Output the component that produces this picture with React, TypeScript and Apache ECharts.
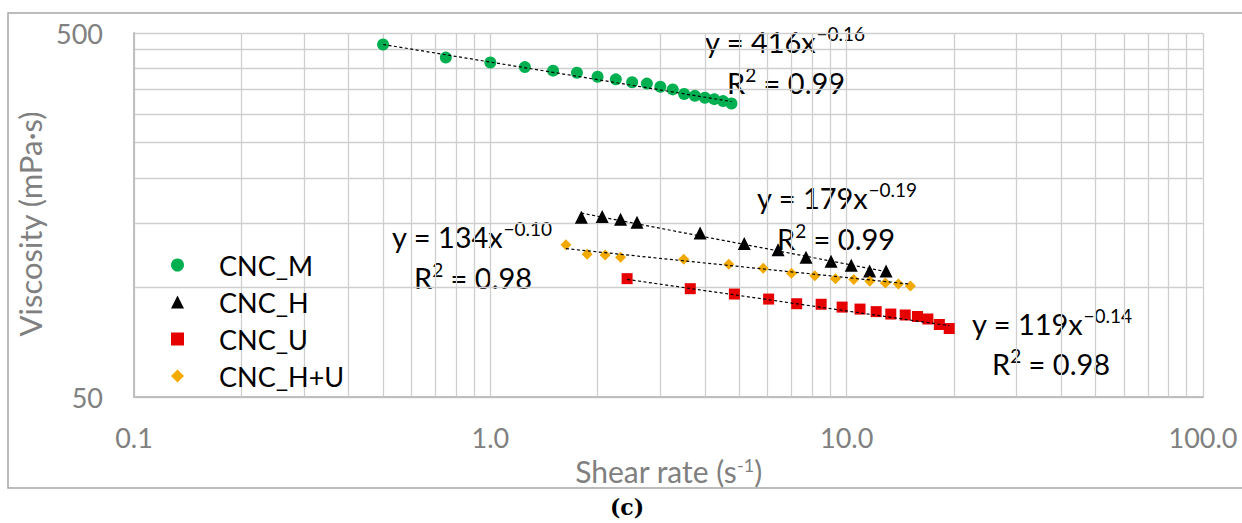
import React, { useEffect, useRef } from "react";
import * as echarts from "echarts";

// ---------- data ----------
const shearM = [0.5, 0.75, 1.0, 1.25, 1.5, 1.75, 2.0, 2.25, 2.5, 2.75, 3.0, 3.25, 3.5, 3.75, 4.0, 4.25, 4.5, 4.75];
const viscM = [465, 428, 415, 403, 394, 389, 379, 373, 366, 363, 356, 350, 340, 336, 332, 329, 325, 320];

const shearH = [1.8, 2.06, 2.32, 2.58, 3.88, 5.16, 6.42, 7.69, 9.04, 10.3, 11.6, 12.9];
const viscH = [156, 156.5, 154, 151, 141, 132, 127, 121, 118, 115, 111, 111];

const shearU = [2.42, 3.64, 4.84, 6.04, 7.24, 8.48, 9.71, 10.9, 12.1, 13.3, 14.6, 15.8, 16.9, 18.2, 19.4];
const viscU = [105.7, 99.2, 95.9, 92.9, 90.2, 89.9, 88.3, 87.2, 85.8, 84.5, 84.0, 83.2, 81.9, 79.1, 77.1];

const shearHU = [1.63, 1.87, 2.1, 2.32, 3.49, 4.67, 5.83, 7.0, 8.14, 9.3, 10.47, 11.61, 12.84, 13.97, 15.1];
const viscHU = [131, 123.3, 122.7, 121, 119.5, 115.8, 112.9, 109.4, 107.7, 105.7, 105.1, 104, 102.8, 102.2, 100.9];

// trend-line end points (power fits are straight on log-log axes)
const trendMX = [0.5, 4.75];
const trendMY = [465, 324];
const trendHX = [1.8, 12.9];
const trendHY = [160, 110.5];
const trendUX = [2.42, 19.4];
const trendUY = [105.2, 78.5];
const trendHUX = [1.63, 15.1];
const trendHUY = [127.8, 102.1];

const seriesNames = ["CNC_M", "CNC_H", "CNC_U", "CNC_H+U"];

// axis ticks / grid values
const xGridValues = [0.1, 0.2, 0.3, 0.4, 0.5, 0.6, 0.7, 0.8, 0.9, 1, 2, 3, 4, 5, 6, 7, 8, 9, 10, 20, 30, 40, 50, 60, 70, 80, 90, 100];
const xTickLabels = [0.1, 1, 10, 100];
const yGridValues = [50, 100, 150, 200, 250, 300, 350, 400, 450, 500];
const yTickLabels = [50, 500];

const FONT = "Lato";
const GRAY = "#808080";

const pairs = (xs: number[], ys: number[]) => xs.map((x, i) => [x, ys[i]]);

const richStyles = {
  m: { fontSize: 29, fontFamily: FONT, fill: "#000", lineHeight: 34 },
  s: { fontSize: 19, fontFamily: FONT, fill: "#000", lineHeight: 19, verticalAlign: "top" },
};

function eqText(x: number, y: number, main: string, sup: string) {
  return {
    type: "text",
    x,
    y,
    style: {
      text: `{m|${main}}{s|${sup}}`,
      align: "left",
      verticalAlign: "middle",
      rich: richStyles,
    },
  };
}

function r2Text(x: number, y: number, value: string) {
  return {
    type: "text",
    x,
    y,
    style: {
      text: `{m|R}{s|2}{m| = ${value}}`,
      align: "left",
      verticalAlign: "middle",
      rich: richStyles,
    },
  };
}

export default function App() {
  const ref = useRef<HTMLDivElement>(null);

  useEffect(() => {
    if (!ref.current) return;
    const chart = echarts.init(ref.current, null, { renderer: "svg" });

    const scatter = (name: string, xs: number[], ys: number[], symbol: string, size: number, color: string) => ({
      name,
      type: "scatter",
      data: pairs(xs, ys),
      symbol,
      symbolSize: size,
      itemStyle: { color, opacity: 1 },
      z: 2,
    });
    const trend = (xs: number[], ys: number[]) => ({
      type: "line",
      data: pairs(xs, ys),
      symbol: "none",
      silent: true,
      lineStyle: { color: "#000", width: 1.2, type: [3, 2.5] },
      z: 3,
    });

    chart.setOption({
      animation: false,
      backgroundColor: "#fff",
      grid: { left: 134, right: 39, top: 33, bottom: 126, containLabel: false },
      xAxis: {
        type: "log",
        logBase: 10,
        min: 0.1,
        max: 100,
        name: "Shear rate (s{sup|-1})",
        nameLocation: "middle",
        nameGap: 47,
        nameTextStyle: {
          color: GRAY,
          fontSize: 30,
          fontFamily: FONT,
          rich: { sup: { fontSize: 18, color: GRAY, fontFamily: FONT, verticalAlign: "top", lineHeight: 18 } },
        },
        axisLine: { show: true, lineStyle: { color: "#bfbfbf", width: 2 } },
        axisTick: { show: false, customValues: xGridValues },
        axisLabel: {
          customValues: xTickLabels,
          formatter: (v: number) => v.toFixed(1),
          color: GRAY,
          fontSize: 27,
          fontFamily: FONT,
          margin: 27,
        },
        splitLine: { show: true, lineStyle: { color: "#cfcfcf", width: 1.3 } },
        minorSplitLine: { show: false },
      },
      yAxis: {
        type: "log",
        logBase: 10,
        min: 50,
        max: 500,
        name: "Viscosity (mPa·s)",
        nameLocation: "middle",
        nameGap: 84,
        nameRotate: 90,
        nameTextStyle: { color: GRAY, fontSize: 31, fontFamily: FONT, padding: [0, 18, 0, 0] },
        axisLine: { show: true, lineStyle: { color: "#bfbfbf", width: 2 } },
        axisTick: { show: false, customValues: yGridValues },
        axisLabel: {
          customValues: yTickLabels,
          formatter: (v: number) => String(Math.round(v)),
          color: GRAY,
          fontSize: 27,
          fontFamily: FONT,
          margin: 31,
        },
        splitLine: { show: true, lineStyle: { color: "#cfcfcf", width: 1.3 } },
        minorSplitLine: { show: false },
      },
      legend: {
        orient: "vertical",
        left: 166,
        top: 245,
        itemWidth: 13,
        itemHeight: 13,
        itemGap: 7,
        data: [
          { name: seriesNames[0], icon: "circle" },
          { name: seriesNames[1], icon: "triangle" },
          { name: seriesNames[2], icon: "rect" },
          { name: seriesNames[3], icon: "diamond" },
        ],
        textStyle: { color: "#000", fontSize: 27, fontFamily: FONT, lineHeight: 30, padding: [0, 0, 0, 30] },
      },
      series: [
        scatter(seriesNames[0], shearM, viscM, "circle", 12, "#00b050"),
        scatter(seriesNames[1], shearH, viscH, "triangle", 13, "#000000"),
        scatter(seriesNames[2], shearU, viscU, "rect", 11, "#e60000"),
        scatter(seriesNames[3], shearHU, viscHU, "diamond", 11, "#f2a900"),
        trend(trendMX, trendMY),
        trend(trendHX, trendHY),
        trend(trendUX, trendUY),
        trend(trendHUX, trendHUY),
      ],
      graphic: [
        {
          type: "rect",
          shape: { x: 8, y: 13, width: 1240, height: 475 },
          style: { fill: "none", stroke: "#a6a6a6", lineWidth: 1.5 },
          silent: true,
        },
        eqText(705, 41, "y = 416x", "−0.16"),
        r2Text(727, 82, "0.99"),
        eqText(757, 197, "y = 179x", "−0.19"),
        r2Text(777, 238, "0.99"),
        eqText(392, 236, "y = 134x", "−0.10"),
        r2Text(414, 277, "0.98"),
        eqText(972, 323, "y = 119x", "−0.14"),
        r2Text(992, 363, "0.98"),
        {
          type: "text",
          x: 627,
          y: 507,
          style: {
            text: "(c)",
            align: "center",
            verticalAlign: "middle",
            fontSize: 22,
            fontWeight: "bold",
            fontFamily: "DejaVu Serif",
            fill: "#000",
          },
        },
      ],
    });

    return () => chart.dispose();
  }, []);

  return <div ref={ref} style={{ position: "absolute", left: 0, top: 0, width: 1242, height: 523 }} />;
}
